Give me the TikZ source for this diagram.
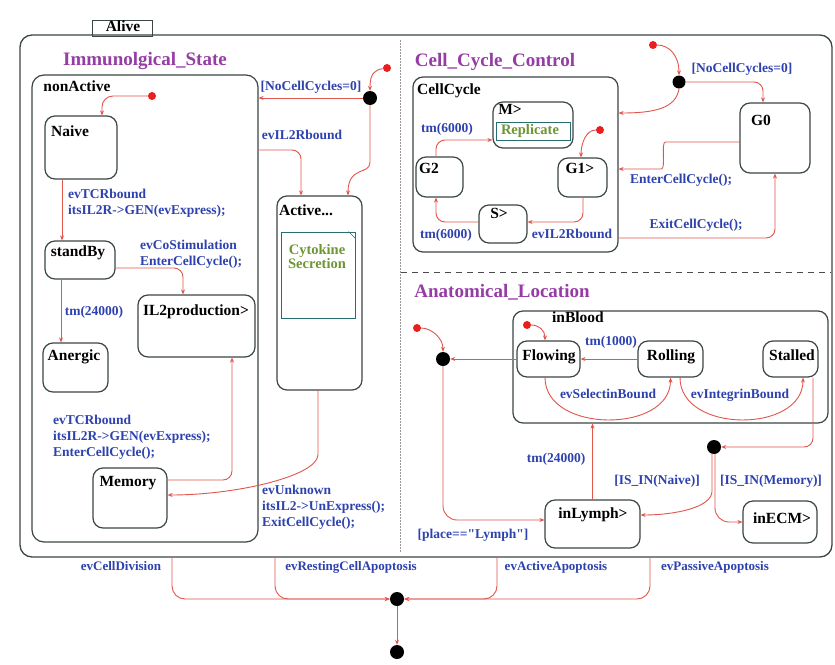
\documentclass[tikz,border=0pt]{standalone}
\usepackage{fontspec}
\setmainfont{Liberation Serif}
\newfontfamily\myQfont{Liberation Serif}
\usetikzlibrary{arrows.meta}
\definecolor{boxc}{RGB}{60,70,70}
\definecolor{trred}{RGB}{225,85,75}
\definecolor{lblue}{RGB}{45,65,175}
\definecolor{purp}{RGB}{150,60,165}
\definecolor{grn}{RGB}{110,150,50}
\definecolor{teal2}{RGB}{40,110,110}
\definecolor{initred}{RGB}{235,30,30}
\newcommand\myLbl{\fontsize{13.5}{16}\selectfont\bfseries}
\newcommand\myBot{\fontsize{13}{16}\selectfont\bfseries}
\newcommand\mySt{\fontsize{15.5}{18}\selectfont\bfseries}
\newcommand\myReg{\fontsize{19}{22}\selectfont\bfseries}
\newcommand\myCyto{\fontsize{14.5}{14}\selectfont\bfseries}
\newcommand\myRepl{\fontsize{14.5}{16}\selectfont\bfseries}
\begin{document}
\begin{tikzpicture}[x=1pt,y=-1pt,
  box/.style={draw=boxc, line width=1.2pt, rounded corners=10pt, inner sep=0pt},
  sname/.style={font=\mySt, text=black, inner sep=0pt, text height=10.7pt, text depth=3.4pt},
  lbl/.style={font=\myLbl, text=lblue, inner sep=0pt, text height=9.3pt, text depth=3pt},
  lblb/.style={font=\myBot, text=lblue, inner sep=0pt, text height=9pt, text depth=2.9pt},
  lblm/.style={font=\myLbl, text=lblue, inner sep=0pt, align=left, anchor=north west},
  reg/.style={font=\myReg, text=purp, inner sep=0pt, text height=13pt, text depth=4.2pt},
  tr/.style={draw=trred, line width=0.9pt, -{Stealth[length=5pt,width=4pt]}, rounded corners=9pt},
  junc/.style={circle, fill=black, minimum size=14pt, inner sep=0pt},
  initd/.style={circle, fill=initred, minimum size=8pt, inner sep=0pt}]

\useasboundingbox (0,0) rectangle (835,664);
\fill[white] (0,0) rectangle (835,664);

% Alive
\node[draw=boxc, line width=1pt, minimum width=60, minimum height=16, inner sep=0pt] (alivetab) at (122,28) {};
\node[sname] (tAlive) at (123,28) {Alive};
\node[box, line width=1.3pt, rounded corners=12pt, minimum width=812, minimum height=522] (alive) at (426,296) {};

% dividers
\draw[gray!80, line width=0.8pt, dash pattern=on 1.5pt off 1.5pt] (400,40) -- (400,553);
\draw[gray!60!black, line width=0.9pt, dash pattern=on 6pt off 5pt] (401,272) -- (831,272);

% region titles
\node[reg] (tImm) at (145,61) {Immunolgical\_State};
\node[reg] (tCCC) at (495,62) {Cell\_Cycle\_Control};
\node[reg] (tAna) at (502,293) {Anatomical\_Location};

% Immunological state
\node[box, rounded corners=12pt, minimum width=226, minimum height=467] (nonactive) at (145,308.5) {};
\node[sname] (tNonActive) at (77,88) {nonActive};
\node[box, minimum width=72, minimum height=63] (naive) at (81,147.5) {};
\node[sname] (tNaive) at (70,133) {Naive};
\node[box, minimum width=70, minimum height=38] (standby) at (80,260) {};
\node[sname] (tStandBy) at (78,253) {standBy};
\node[box, minimum width=65, minimum height=49] (anergic) at (75.5,367.5) {};
\node[sname] (tAnergic) at (74,357) {Anergic};
\node[box, minimum width=117, minimum height=62] (il2) at (196.5,326) {};
\node[sname] (tIL2) at (196,312) {IL2production>};
\node[box, minimum width=74, minimum height=60] (memory) at (130,498) {};
\node[sname] (tMemory) at (128,483) {Memory};
\node[box, minimum width=85, minimum height=194] (active) at (319.5,293) {};
\node[sname] (tActive) at (306,212) {Active...};
\node[draw=teal2, line width=1pt, minimum width=74, minimum height=86, inner sep=0pt] (cyto) at (318,275) {};
\draw[teal2, line width=0.6pt] ([xshift=-7pt]cyto.north east) -- ([yshift=-7pt]cyto.north east);
\node[font=\myCyto, text=grn, align=center, anchor=north, inner sep=0pt] (tCyto) at (317,244) {Cytokine\\Secretion};

% Cell cycle control
\node[box, minimum width=205, minimum height=175] (cellcycle) at (515.5,164.5) {};
\node[sname] (tCellCycle) at (449,91) {CellCycle};
\node[box, minimum width=80, minimum height=46] (m) at (533,125) {};
\node[sname] (tM) at (510,111) {M>};
\node[draw=teal2, line width=1pt, minimum width=74, minimum height=18, inner sep=0pt] (repl) at (533,131) {};
\node[font=\myRepl, text=grn, inner sep=0pt] (tRepl) at (530,131) {Replicate};
\node[box, minimum width=47, minimum height=40] (g2) at (439.5,177) {};
\node[sname] (tG2) at (429,170) {G2};
\node[box, minimum width=49, minimum height=39] (g1) at (582.5,177.5) {};
\node[sname] (tG1) at (580,170) {G1>};
\node[box, minimum width=48, minimum height=38] (s) at (503,224) {};
\node[sname] (tS) at (499,215) {S>};
\node[box, minimum width=70, minimum height=70] (g0) at (775,138) {};
\node[sname] (tG0) at (761,122) {G0};

% Anatomical location
\node[box, minimum width=315, minimum height=112] (inblood) at (670.5,367) {};
\node[sname] (tInBlood) at (578,319) {inBlood};
\node[box, minimum width=63, minimum height=36] (flowing) at (548.5,359) {};
\node[sname] (tFlowing) at (549,357) {Flowing};
\node[box, minimum width=65, minimum height=36] (rolling) at (670.5,359) {};
\node[sname] (tRolling) at (671,357) {Rolling};
\node[box, minimum width=55, minimum height=36] (stalled) at (790.5,359) {};
\node[sname] (tStalled) at (792,357) {Stalled};
\node[box, minimum width=95, minimum height=48] (inlymph) at (592.5,524) {};
\node[sname] (tInLymph) at (593,515) {inLymph>};
\node[box, minimum width=74, minimum height=42] (inecm) at (780,522) {};
\node[sname] (tInECM) at (782,520) {inECM>};

% junctions and initial dots
\node[initd] (i1) at (152,96) {};
\node[initd] (i2) at (387,68) {};
\node[junc] (j1) at (370,98) {};
\node[initd] (i3) at (600,130) {};
\node[initd] (i4) at (653,45) {};
\node[junc, minimum size=13pt] (j2) at (679,82) {};
\node[initd] (i5) at (527,325) {};
\node[initd] (i6) at (417,328) {};
\node[junc] (j3) at (443,359) {};
\node[junc] (j4) at (714,447) {};
\node[junc] (j5) at (397,599) {};
\node[junc] (fin) at (397,652) {};

% transitions: immunological
\draw[tr, rounded corners=11pt] (i1) -| ([xshift=21pt]naive.north);
\draw[tr] ([xshift=-19pt]naive.south) -- ([xshift=-18pt]standby.north);
\node[lblm] (lNS) at (68,189) {evTCRbound\\itsIL2R->GEN(evExpress);};
\draw[tr] ([xshift=-19pt]standby.south) -- ([xshift=-14.5pt]anergic.north);
\node[lbl] (lSA) at (94,312) {tm(24000)};
\draw[tr] ([yshift=-8pt]standby.east) -| ([xshift=-13.5pt]il2.north);
\node[lblm] (lSI) at (140,240) {evCoStimulation\\EnterCellCycle();};
\draw[tr] ([yshift=18pt]memory.east) -| ([xshift=35.5pt]il2.south);
\node[lblm] (lMI) at (53,415) {evTCRbound\\itsIL2R->GEN(evExpress);\\EnterCellCycle();};
\draw[tr] ([xshift=-1.5pt]active.south) -- ++(0,55) .. controls +(0,30) and +(70,0) .. ([yshift=3pt]memory.east);
\node[lblm] (lAM) at (262,485) {evUnknown\\itsIL2->UnExpress();\\ExitCellCycle();};
\draw[tr] (i2) .. controls +(-12,2) and +(0,-18) .. (j1.north);
\draw[tr] (j1.west) -- (j1 -| nonactive.east);
\node[lbl] (lNC1) at (311,87) {{[}NoCellCycles=0{]}};
\draw[tr] (j1.south) -- ++(0,48) .. controls +(0,22) and +(0,-30) .. ([xshift=28.5pt]active.north);
\draw[tr] ([yshift=158.5pt]nonactive.east) -| ([xshift=-18.5pt]active.north);
\node[lbl] (lIL2) at (302,136) {evIL2Rbound};

% transitions: cell cycle
\draw[tr] (i3) .. controls +(-14,0) and +(0,-14) .. ([xshift=-1.5pt]g1.north);
\draw[tr] ([xshift=-3.5pt]g2.north) |- ([yshift=-15pt]m.west);
\node[lbl] (lG2M) at (447,129) {tm(6000)};
\draw[tr] ([yshift=2pt]s.west) -| ([xshift=-3.5pt]g2.south);
\node[lbl] (lSG2) at (446,235) {tm(6000)};
\draw[tr] ([xshift=0.5pt]g1.south) |- ([yshift=2pt]s.east);
\node[lbl] (lG1S) at (572,235) {evIL2Rbound};
\draw[tr] (i4) .. controls +(16,0) and +(0,-20) .. (j2.north);
\draw[tr] (j2.east) -| ([xshift=-12pt]g0.north);
\node[lbl] (lNC2) at (742,69) {{[}NoCellCycles=0{]}};
\draw[tr] (j2.south) .. controls +(-3,20) and +(35,0) .. ([yshift=51.5pt]cellcycle.east);
\draw[tr] ([yshift=-4pt]g0.west) -- ++(-65,0) to[out=180,in=0] ++(-22,27) -- ([yshift=-4.5pt]cellcycle.east);
\node[lbl] (lEnter) at (681,180) {EnterCellCycle();};
\draw[tr] ([yshift=-73.5pt]cellcycle.east) -| (g0.south);
\node[lbl] (lExit) at (696,225) {ExitCellCycle();};

% transitions: anatomical
\draw[tr] (i5) .. controls +(12,0) and +(0,-10) .. ([xshift=-3.5pt]flowing.north);
\draw[tr] (rolling.west) -- (flowing.east);
\node[lbl] (lRF) at (611,342) {tm(1000)};
\draw[tr] ([xshift=-3.5pt]flowing.south) .. controls +(0,56) and +(0,56) .. (rolling.south);
\node[lbl] (lSel) at (608,395) {evSelectinBound};
\draw[tr] ([xshift=9.5pt]rolling.south) .. controls +(0,56) and +(0,56) .. ([xshift=12.5pt]stalled.south);
\node[lbl] (lInt) at (740,395) {evIntegrinBound};
\draw[tr] (i6) .. controls +(14,0) and +(0,-14) .. (j3.north);
\draw[tr] (flowing.west) -- (j3.east);
\draw[tr, rounded corners=14pt] (j3.south) |- ([yshift=4pt]inlymph.west);
\node[lbl] (lPlace) at (473,535) {{[}place=={\myQfont\bfseries"}Lymph{\myQfont\bfseries"}{]}};
\draw[tr] (inlymph.north) -- (inlymph.north |- inblood.south);
\node[lbl] (lTm24) at (556,459) {tm(24000)};
\draw[tr] ([xshift=22.5pt]stalled.south) |- (j4.east);
\draw[tr] ([xshift=-2pt]j4.south) -- ++(0,28) .. controls +(0,25) and +(35,0) .. ([yshift=9pt]inlymph.east);
\node[lbl] (lNaiveIn) at (657,481) {{[}IS\_IN(Naive){]}};
\draw[tr, rounded corners=14pt] ([xshift=1pt]j4.south) |- (inecm.west);
\node[lbl] (lMemIn) at (771,481) {{[}IS\_IN(Memory){]}};

% bottom transitions
\draw[tr, rounded corners=13pt] ([xshift=-254pt]alive.south) |- (j5.west);
\draw[tr, rounded corners=13pt] ([xshift=-151pt]alive.south) |- (j5.west);
\draw[tr, rounded corners=13pt] ([xshift=71pt]alive.south) |- (j5.east);
\draw[tr, rounded corners=13pt] ([xshift=224pt]alive.south) |- (j5.east);
\node[lblb] (lDiv) at (121,567) {evCellDivision};
\node[lblb] (lRest) at (351,567) {evRestingCellApoptosis};
\node[lblb] (lAct) at (556,567) {evActiveApoptosis};
\node[lblb] (lPas) at (715,567) {evPassiveApoptosis};
\draw[tr] (j5.south) -- (fin.north);
\end{tikzpicture}
\end{document}
